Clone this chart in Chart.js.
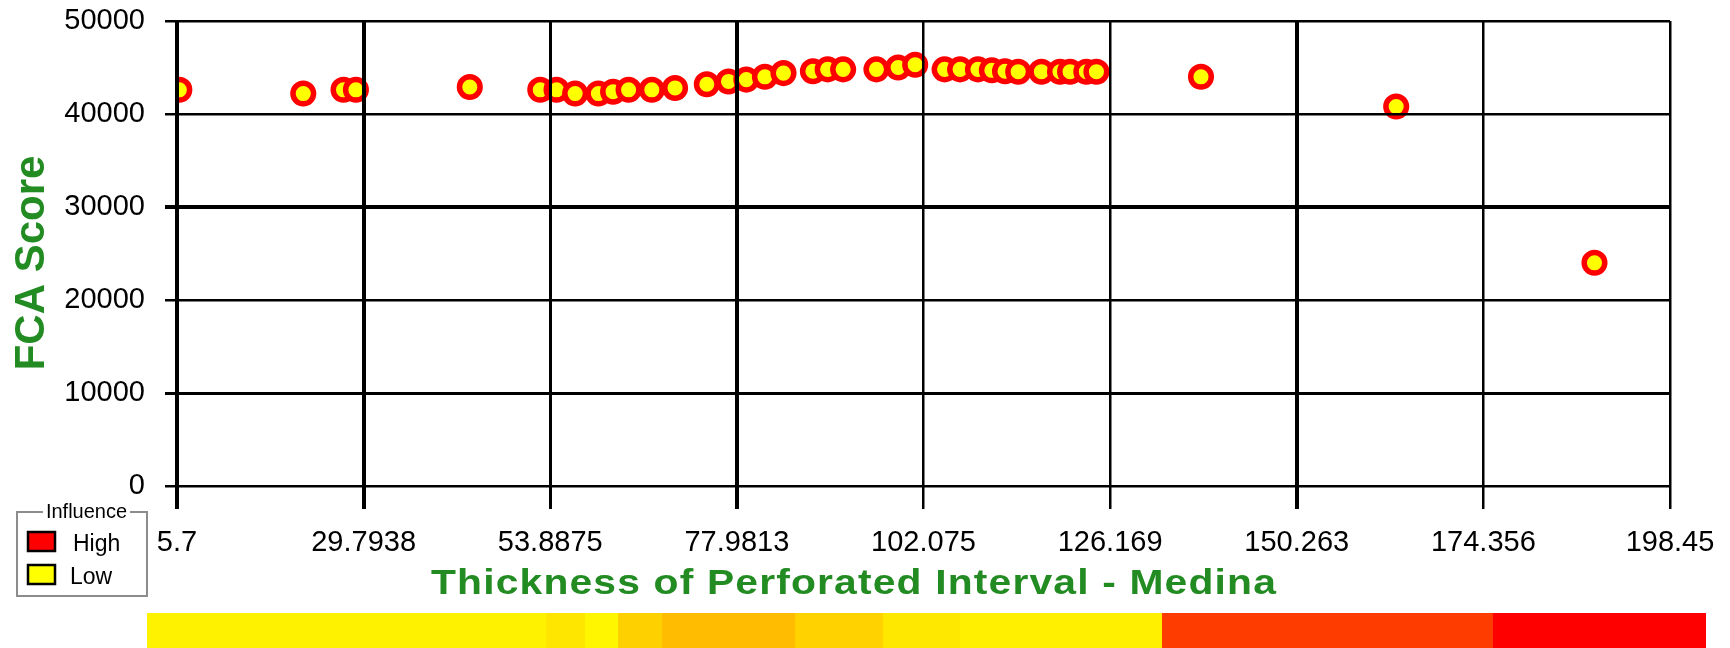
<!DOCTYPE html>
<html>
<head>
<meta charset="utf-8">
<script src="https://cdn.jsdelivr.net/npm/chart.js@4.4.1/dist/chart.umd.min.js"></script>
<style>
html,body{margin:0;padding:0;background:#fff;}
#wrap{width:1730px;height:648px;position:relative;}
</style>
</head>
<body>
<div id="wrap"><canvas id="c" width="1730" height="648"></canvas></div>
<script>
// ---- data ----
const thickness = [6.0, 22.0, 27.2, 28.8, 43.5, 52.6, 54.7, 57.1, 60.1, 62.0, 64.0, 67.0, 70.0, 74.1, 76.9, 79.2, 81.6, 84.0, 87.8, 89.7, 91.7, 96.0, 98.8, 101.0, 104.8, 106.8, 109.1, 110.9, 112.6, 114.3, 117.3, 119.7, 121.0, 123.1, 124.4, 137.9, 163.1, 188.7];
const fcaScore = [42600, 42200, 42600, 42600, 42900, 42600, 42600, 42200, 42200, 42400, 42600, 42600, 42800, 43200, 43500, 43700, 44000, 44400, 44600, 44800, 44800, 44800, 45000, 45300, 44800, 44800, 44800, 44700, 44600, 44550, 44550, 44550, 44550, 44550, 44550, 44000, 40800, 24000];
const xTickValues = [5.7, 29.79375, 53.8875, 77.98125, 102.075, 126.16875, 150.2625, 174.35625, 198.45];
const xTickLabels = ['5.7', '29.7938', '53.8875', '77.9813', '102.075', '126.169', '150.263', '174.356', '198.45'];
const yTickValues = [0, 10000, 20000, 30000, 40000, 50000];
const yTickLabels = ['0', '10000', '20000', '30000', '40000', '50000'];
const xTitle = 'Thickness of Perforated Interval - Medina';
const yTitle = 'FCA Score';
const legendTitle = 'Influence';
const legendLabels = ['High', 'Low'];

// ---- styles ----
const GREEN = '#228b22';
const RED = '#ff0000';
const YELLOW = '#ffff00';
const xGridWidths = [4, 4, 3, 4, 2.5, 2.5, 4, 2.5, 2.5];
const yGridWidths = [2.5, 3, 2.5, 4, 2.5, 2.5];
const bandStops = [
  [147, '#fff200'], [546, '#ffe600'], [585, '#fff600'], [618, '#ffd000'],
  [662, '#ffbc00'], [795, '#ffd200'], [883, '#ffe800'], [960, '#fff000'],
  [1162, '#ff3c00'], [1493, '#ff0000'], [1706, null]
];

const decor = {
  id: 'decor',
  afterDraw(chart) {
    const ctx = chart.ctx;
    ctx.save();
    // colour band
    for (let i = 0; i < bandStops.length - 1; i++) {
      ctx.fillStyle = bandStops[i][1];
      ctx.fillRect(bandStops[i][0], 613, bandStops[i + 1][0] - bandStops[i][0], 35);
    }
    // x title (stretched)
    ctx.fillStyle = GREEN;
    ctx.font = 'bold 35px "Liberation Sans", Arial, sans-serif';
    ctx.textBaseline = 'alphabetic';
    ctx.textAlign = 'center';
    try { ctx.letterSpacing = '1px'; } catch (e) {}
    const w = ctx.measureText(xTitle).width;
    ctx.save();
    ctx.translate(854, 594);
    ctx.scale(846 / w, 1);
    ctx.fillText(xTitle, 0, 0);
    ctx.restore();
    try { ctx.letterSpacing = '0px'; } catch (e) {}
    // y title
    ctx.save();
    ctx.translate(43.5, 263);
    ctx.rotate(-Math.PI / 2);
    ctx.font = 'bold 42px "Liberation Sans", Arial, sans-serif';
    ctx.fillText(yTitle, 0, 0);
    ctx.restore();
    // legend box
    ctx.strokeStyle = '#8c8c8c';
    ctx.lineWidth = 2;
    ctx.strokeRect(17, 512, 130, 84);
    ctx.font = '20px "Liberation Sans", Arial, sans-serif';
    const tw = ctx.measureText(legendTitle).width;
    ctx.fillStyle = '#ffffff';
    ctx.fillRect(86.5 - tw / 2 - 3, 505, tw + 6, 14);
    ctx.fillStyle = '#000';
    ctx.textAlign = 'center';
    ctx.fillText(legendTitle, 86.5, 518);
    const sw = [[RED, 532], [YELLOW, 565]];
    ctx.font = '23px "Liberation Sans", Arial, sans-serif';
    ctx.textAlign = 'left';
    sw.forEach((s, i) => {
      ctx.fillStyle = s[0];
      ctx.fillRect(28, s[1], 27, 19);
      ctx.strokeStyle = '#000';
      ctx.lineWidth = 2.5;
      ctx.strokeRect(28, s[1], 27, 19);
      ctx.fillStyle = '#000';
      ctx.fillText(legendLabels[i], i === 0 ? 73 : 70, s[1] + 19);
    });
    ctx.restore();
  }
};

const points = thickness.map((x, i) => ({ x: x, y: fcaScore[i] }));

Chart.defaults.font.family = '"Liberation Sans", Arial, sans-serif';
Chart.defaults.color = '#000';

new Chart(document.getElementById('c'), {
  type: 'scatter',
  data: {
    datasets: [{
      data: points,
      pointRadius: 10.3,
      pointHoverRadius: 10.3,
      pointBorderWidth: 5.5,
      pointBackgroundColor: YELLOW,
      pointBorderColor: RED,
      clip: { left: 0, top: false, right: false, bottom: false }
    }]
  },
  options: {
    responsive: false,
    animation: false,
    devicePixelRatio: 1,
    layout: { padding: { left: 0, top: 21, right: 60, bottom: 0 } },
    plugins: { legend: { display: false }, tooltip: { enabled: false } },
    scales: {
      x: {
        type: 'linear',
        min: xTickValues[0],
        max: xTickValues[xTickValues.length - 1],
        afterBuildTicks: s => { s.ticks = xTickValues.map(v => ({ value: v })); },
        afterFit: s => { s.height = 162; s.paddingLeft = 0; s.paddingRight = 0; },
        border: { display: false },
        grid: {
          z: 1,
          color: '#000',
          lineWidth: c => xGridWidths[c.index] || 2.5,
          tickLength: 23,
          drawTicks: true
        },
        ticks: {
          autoSkip: false,
          maxRotation: 0,
          padding: 17,
          font: { size: 29 },
          color: '#000',
          callback: (v, i) => xTickLabels[i]
        }
      },
      y: {
        type: 'linear',
        min: yTickValues[0],
        max: yTickValues[yTickValues.length - 1],
        afterBuildTicks: s => { s.ticks = yTickValues.map(v => ({ value: v })); },
        afterFit: s => { s.width = 177; s.paddingTop = 0; s.paddingBottom = 0; },
        border: { display: false },
        grid: {
          z: 1,
          color: '#000',
          lineWidth: c => yGridWidths[c.index] || 2.5,
          tickLength: 12
        },
        ticks: {
          padding: 20,
          font: { size: 29 },
          color: '#000',
          callback: (v, i) => yTickLabels[i]
        }
      }
    }
  },
  plugins: [decor]
});
</script>
</body>
</html>
